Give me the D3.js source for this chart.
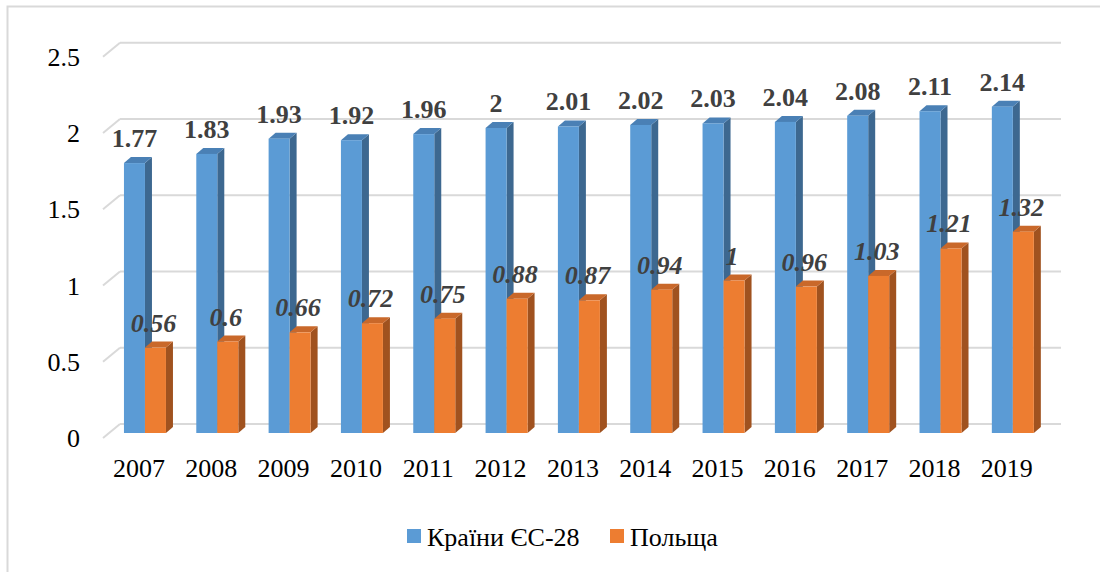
<!DOCTYPE html>
<html><head><meta charset="utf-8">
<script src="https://cdn.jsdelivr.net/npm/d3@7"></script>
<style>body{margin:0;background:#fff;}svg{display:block;} text{font-family:"Liberation Serif","Times New Roman",Times,"DejaVu Serif",serif;}</style>
</head><body>
<svg id="c" width="1100" height="572"></svg>
<script>
const years = ["2007","2008","2009","2010","2011","2012","2013","2014","2015","2016","2017","2018","2019"];
const euValues = [1.77,1.83,1.93,1.92,1.96,2,2.01,2.02,2.03,2.04,2.08,2.11,2.14];
const plValues = [0.56,0.6,0.66,0.72,0.75,0.88,0.87,0.94,1,0.96,1.03,1.21,1.32];
const yTicks = [0,0.5,1,1.5,2,2.5];
const seriesNames = ["Країни ЄС-28","Польща"];

const svg = d3.select("#c");
const x = d3.scaleBand().domain(years).range([108.8, 1049]).padding(0);
const y = d3.scaleLinear().domain([0,2.5]).range([433, 433-381.25]);
const dx = 7, dy = 6, bw = 21;

// outer frame
svg.append("path").attr("d","M7.5,572 L7.5,6.5 L1100,6.5").attr("fill","none").attr("stroke","#d9d9d9").attr("stroke-width",2);

// gridlines (back wall) + diagonal floor edges
const g = svg.append("g");
yTicks.forEach(v=>{
  const yy = y(v);
  g.append("line").attr("x1",120).attr("x2",1061).attr("y1",yy-9).attr("y2",yy-9).attr("stroke","#d9d9d9").attr("stroke-width",2);
  g.append("line").attr("x1",103).attr("x2",120).attr("y1",yy+5).attr("y2",yy-9).attr("stroke","#d9d9d9").attr("stroke-width",2);
  svg.append("text").attr("x",80).attr("y",yy+5).attr("dy","0.35em").attr("text-anchor","end")
    .attr("font-size",26).attr("fill","#000").text(v);
});

function bar3d(x0, v, front, side, top){
  const x1 = x0 + bw, yt = y(v), yb = y(0);
  const b = svg.append("g");
  b.append("path").attr("d",`M${x1},${yt} L${x1+dx},${yt-dy} L${x1+dx},${yb-dy} L${x1},${yb} Z`).attr("fill",side);
  b.append("path").attr("d",`M${x0},${yt} L${x0+dx},${yt-dy} L${x1+dx},${yt-dy} L${x1},${yt} Z`).attr("fill",top);
  b.append("rect").attr("x",x0).attr("y",yt).attr("width",bw).attr("height",yb-yt).attr("fill",front);
}

years.forEach((yr,i)=>{
  const c = x(yr) + x.bandwidth()/2;
  bar3d(c-bw, euValues[i], "#5b9bd5", "#3d6890", "#4a80b5");
  bar3d(c, plValues[i], "#ed7d31", "#a0521f", "#c9682a");
});

// data labels
years.forEach((yr,i)=>{
  const c = x(yr) + x.bandwidth()/2;
  svg.append("text").attr("x",c-bw/2).attr("y",y(euValues[i])-16).attr("text-anchor","middle")
    .attr("font-size",26).attr("font-weight","bold").attr("fill","#404040").text(euValues[i]);
  svg.append("text").attr("x",c+bw/2-2).attr("y",y(plValues[i])-16).attr("text-anchor","middle")
    .attr("font-size",26).attr("font-weight","bold").attr("font-style","italic").attr("fill","#404040").text(plValues[i]);
  svg.append("text").attr("x",c-6).attr("y",477).attr("text-anchor","middle")
    .attr("font-size",26).attr("fill","#000").text(yr);
});

// legend
const legendColors = ["#5b9bd5","#ed7d31"];
const legendX = [407, 610];
seriesNames.forEach((n,i)=>{
  svg.append("rect").attr("x",legendX[i]).attr("y",529).attr("width",14).attr("height",14).attr("fill",legendColors[i]);
  svg.append("text").attr("x",legendX[i]+20).attr("y",546).attr("font-size",26).attr("fill","#000").text(n);
});
</script>
</body></html>
